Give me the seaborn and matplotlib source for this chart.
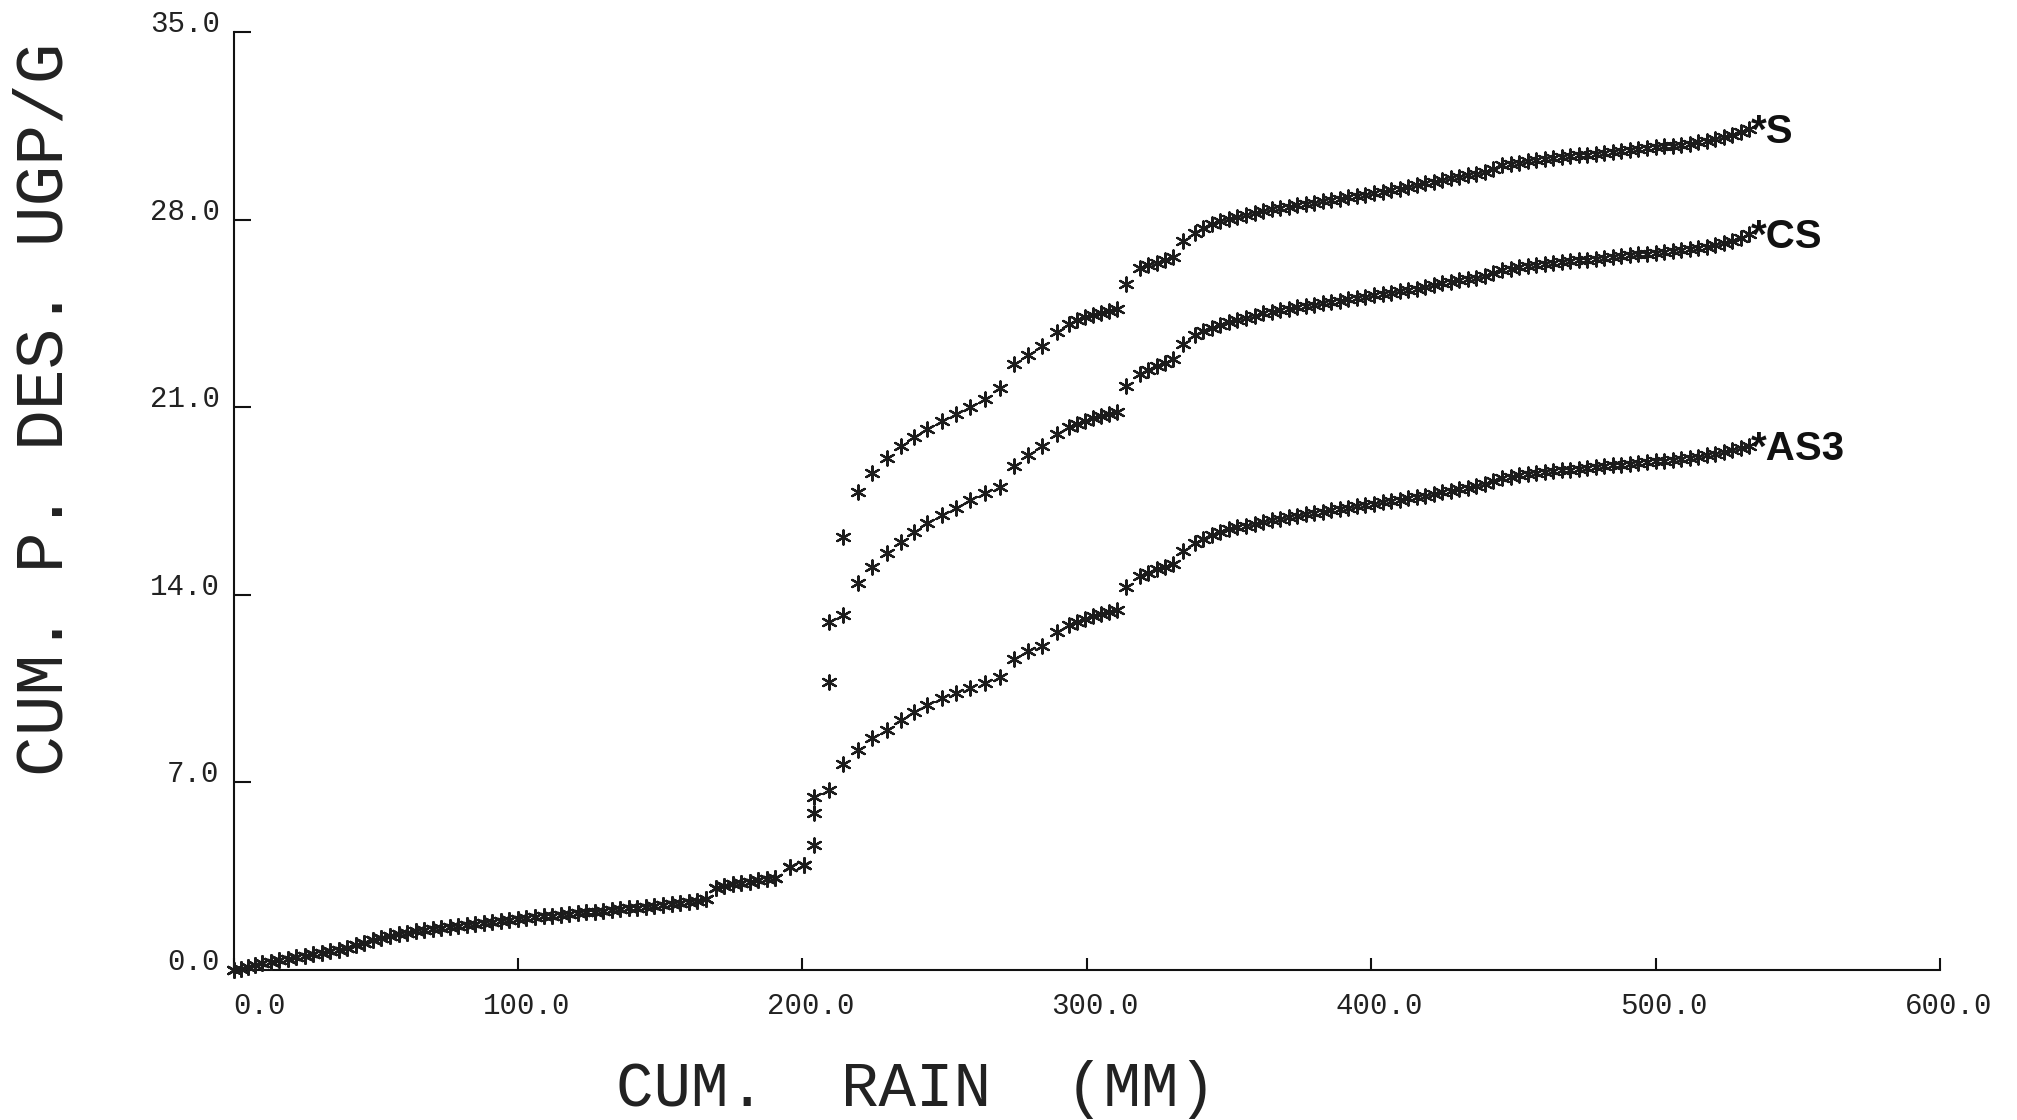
import matplotlib
matplotlib.use("Agg")
import matplotlib.pyplot as plt
from matplotlib import transforms
import numpy as np
import pandas as pd
import seaborn as sns

# ---------------- data ----------------
common_x = [0, 2.5, 5, 7.5, 10, 13, 16, 19, 22, 25, 28, 31, 34, 37, 40, 43, 46, 49, 52, 55,
            58, 61, 64, 67, 70, 73, 76, 79, 82, 85, 88, 91, 94, 97, 100, 103, 106, 109, 112, 115,
            118, 121, 124, 127, 130, 133, 136, 139, 142, 145, 148, 151, 154, 157, 160, 163, 166,
            169.5, 172.5, 175.5, 178.5, 181.5, 184.5, 187.5, 190.5, 195.7, 200.4]
common_y = [0.0, 0.05, 0.12, 0.18, 0.25, 0.3, 0.36, 0.42, 0.48, 0.54, 0.6, 0.65, 0.7, 0.76, 0.82,
            0.92, 1.02, 1.12, 1.2, 1.27, 1.33, 1.38, 1.44, 1.49, 1.53, 1.57, 1.61, 1.65, 1.69, 1.73,
            1.77, 1.8, 1.84, 1.87, 1.9, 1.94, 1.97, 2.0, 2.03, 2.06, 2.09, 2.12, 2.15, 2.18, 2.21,
            2.24, 2.27, 2.3, 2.33, 2.36, 2.39, 2.42, 2.45, 2.49, 2.53, 2.57, 2.64,
            3.05, 3.13, 3.2, 3.26, 3.3, 3.35, 3.4, 3.45, 3.85, 3.92]

rise_x = [204.0, 209.3, 214.3, 219.4, 224.4, 229.6, 234.6, 239.2, 243.9, 249.0, 253.9, 259.0, 264.2, 269.4,
          274.5, 279.2, 284.2, 289.5, 293.8, 296.6, 299.4, 302.2, 305.0, 307.8, 310.6,
          313.8, 318.6, 321.6, 324.6, 327.6, 330.4,
          334.0, 338.0, 341.0, 344.0, 347.0, 350.0,
          353, 356, 359, 362, 365, 368, 371, 374, 377, 380, 383, 386, 389, 392, 395, 398, 401,
          404, 407, 410, 413, 416, 419, 422, 425, 428, 431, 434, 437, 440, 443, 446, 449, 452,
          455, 458, 461, 464, 467, 470, 473, 476, 479, 482, 485, 488, 491, 494, 497, 500, 503,
          506, 509, 512, 515, 518, 521, 524, 527, 530, 533]

s_y = [6.45, 13.0, 16.15, 17.85, 18.55, 19.1, 19.55, 19.9, 20.2, 20.5, 20.75, 21.0, 21.3, 21.7,
       22.6, 22.95, 23.3, 23.8, 24.1, 24.25, 24.35, 24.45, 24.52, 24.6, 24.68,
       25.6, 26.2, 26.3, 26.4, 26.5, 26.6,
       27.2, 27.5, 27.68, 27.82, 27.94, 28.03,
       28.1, 28.18, 28.25, 28.32, 28.38, 28.43, 28.48, 28.53, 28.58, 28.63, 28.68, 28.73, 28.78,
       28.83, 28.88, 28.93, 28.98, 29.03, 29.1, 29.15, 29.22, 29.28, 29.35, 29.42, 29.48, 29.55,
       29.6, 29.66, 29.72, 29.78, 29.9, 30.02, 30.07, 30.12, 30.17, 30.22, 30.26, 30.3, 30.34,
       30.37, 30.4, 30.43, 30.46, 30.5, 30.53, 30.56, 30.6, 30.63, 30.66, 30.7, 30.73, 30.76,
       30.8, 30.84, 30.88, 30.93, 31.0, 31.08, 31.17, 31.27, 31.4]

cs_y = [5.85, 10.76, 13.25, 14.43, 15.05, 15.55, 15.98, 16.35, 16.67, 16.98, 17.23, 17.54, 17.79, 18.03,
        18.82, 19.22, 19.55, 20.01, 20.25, 20.38, 20.48, 20.58, 20.66, 20.75, 20.82,
        21.8, 22.25, 22.4, 22.52, 22.65, 22.8,
        23.35, 23.68, 23.83, 23.95, 24.08, 24.17,
        24.25, 24.33, 24.4, 24.5, 24.57, 24.63, 24.68, 24.73, 24.78, 24.83, 24.88, 24.93, 24.98,
        25.03, 25.08, 25.13, 25.18, 25.23, 25.28, 25.33, 25.38, 25.43, 25.5, 25.56, 25.62, 25.68,
        25.73, 25.78, 25.83, 25.88, 26.0, 26.12, 26.17, 26.22, 26.26, 26.3, 26.34, 26.38, 26.42,
        26.45, 26.48, 26.51, 26.54, 26.58, 26.61, 26.64, 26.67, 26.7, 26.73, 26.76, 26.79, 26.82,
        26.86, 26.9, 26.94, 26.99, 27.05, 27.13, 27.22, 27.33, 27.45]

as3_y = [4.65, 6.72, 7.7, 8.2, 8.65, 8.96, 9.33, 9.64, 9.89, 10.14, 10.32, 10.51, 10.7, 10.95,
         11.62, 11.89, 12.09, 12.62, 12.89, 13.0, 13.09, 13.2, 13.29, 13.36, 13.42,
         14.3, 14.72, 14.83, 14.95, 15.05, 15.15,
         15.62, 15.95, 16.1, 16.22, 16.35, 16.45,
         16.52, 16.58, 16.65, 16.72, 16.78, 16.84, 16.9, 16.95, 17.0, 17.05, 17.1, 17.15, 17.2,
         17.25, 17.3, 17.35, 17.4, 17.45, 17.5, 17.55, 17.6, 17.65, 17.7, 17.76, 17.82, 17.88,
         17.94, 18.0, 18.06, 18.12, 18.24, 18.36, 18.41, 18.46, 18.5, 18.54, 18.58, 18.61, 18.64,
         18.67, 18.7, 18.73, 18.76, 18.8, 18.83, 18.86, 18.89, 18.92, 18.95, 18.98, 19.01, 19.04,
         19.08, 19.12, 19.16, 19.21, 19.27, 19.33, 19.4, 19.47, 19.55]

series_names = ["S", "CS", "AS3"]
series_rise = [s_y, cs_y, as3_y]

x_ticks = [0, 100, 200, 300, 400, 500, 600]
x_tick_labels = ["0.0", "100.0", "200.0", "300.0", "400.0", "500.0", "600.0"]
y_ticks = [0, 7, 14, 21, 28, 35]
y_tick_labels = ["0.0", "7.0", "14.0", "21.0", "28.0", "35.0"]

x_label = "CUM.  RAIN  (MM)"
y_label = "CUM. P. DES. UGP/G"

# ---------------- table ----------------
frames = []
for name, ry in zip(series_names, series_rise):
    frames.append(pd.DataFrame({"rain": common_x + rise_x,
                                "p": common_y + ry,
                                "series": name}))
df = pd.concat(frames, ignore_index=True)

# ---------------- plot ----------------
sns.set_theme(style="white")
plt.rcParams["font.family"] = ["Liberation Mono", "DejaVu Sans Mono", "DejaVu Sans"]

ink = "#1c1c1c"
fig = plt.figure(figsize=(20.17, 11.2), dpi=100)
ax = fig.add_axes([0.1158, 0.1339, 0.8460, 0.8375])

for name in series_names:
    sub = df[df["series"] == name]
    sns.scatterplot(data=sub, x="rain", y="p", marker=(6, 2, 0), s=105,
                    color=ink, edgecolor=ink, linewidth=1.6, legend=False,
                    ax=ax, clip_on=False, zorder=3)

ax.set_xlim(0, 600)
ax.set_ylim(0, 35)
sns.despine(ax=ax)
for sp in ("left", "bottom"):
    ax.spines[sp].set_color("#111111")
    ax.spines[sp].set_linewidth(1.5)

ax.set_xticks(x_ticks)
ax.set_xticklabels(x_tick_labels)
ax.set_yticks(y_ticks)
ax.set_yticklabels(y_tick_labels)
ax.tick_params(axis="x", bottom=True, direction="in", length=9, width=1.5, color="#111111",
               pad=16, labelsize=21, labelcolor="#222222")
ax.tick_params(axis="y", left=True, direction="in", length=12, width=1.5, color="#111111",
               pad=10, labelsize=21, labelcolor="#222222")

# x tick labels: right edge sits a fixed distance right of the tick
off = transforms.ScaledTranslation(52 / 100, 0, fig.dpi_scale_trans)
for lab in ax.get_xticklabels():
    lab.set_horizontalalignment("right")
    lab.set_transform(lab.get_transform() + off)
for lab in ax.get_yticklabels():
    lab.set_verticalalignment("baseline")

ax.set_xlabel(x_label, fontsize=45, color="#222222")
ax.xaxis.set_label_coords(0.40, -0.096)
ax.set_ylabel(y_label, fontsize=49, color="#222222")
ax.yaxis.set_label_coords(-0.092, 0.598)

# curve labels
for name, ry in zip(series_names, series_rise):
    ax.annotate("*" + name, xy=(rise_x[-1], ry[-1]), xytext=(1, -3),
                textcoords="offset pixels", ha="left", va="center",
                fontsize=29, fontweight="bold", color="#111111",
                family=["Liberation Sans", "DejaVu Sans"], annotation_clip=False)

fig.savefig("out.png", dpi=100, facecolor="white")
